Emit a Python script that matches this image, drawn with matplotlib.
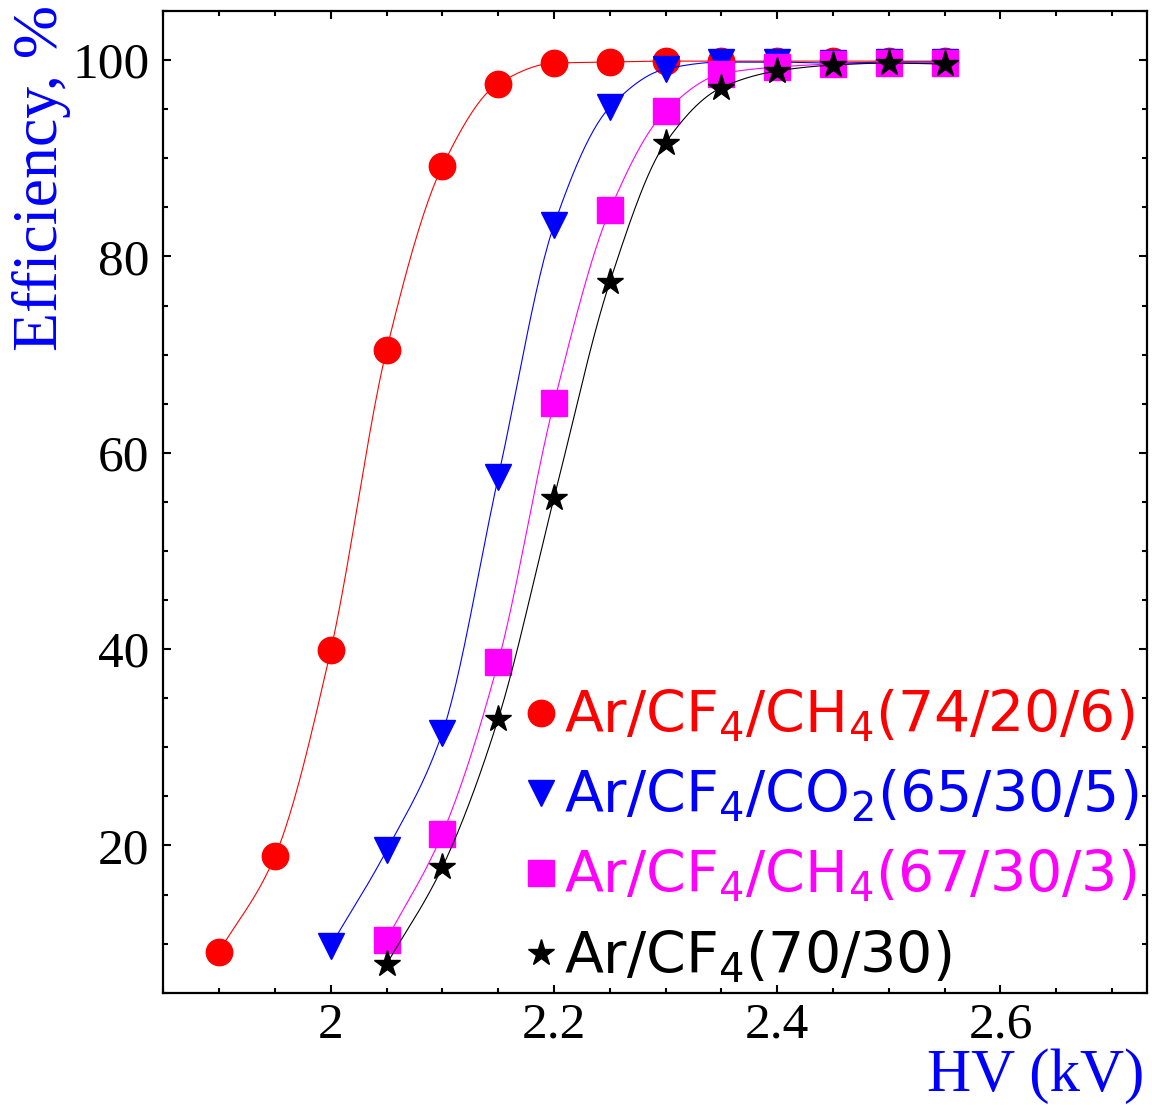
import numpy as np
import matplotlib
matplotlib.use("Agg")
import matplotlib.pyplot as plt
from matplotlib.ticker import MultipleLocator

# HV in kV, efficiency in %
hv_red = [1.90, 1.95, 2.00, 2.05, 2.10, 2.15, 2.20, 2.25, 2.30, 2.35, 2.40, 2.45, 2.50, 2.55]
eff_red = [9.2, 18.9, 39.9, 70.5, 89.2, 97.6, 99.7, 99.8, 99.9, 99.9, 99.9, 99.9, 99.9, 99.9]

hv_blue = [2.00, 2.05, 2.10, 2.15, 2.20, 2.25, 2.30, 2.35, 2.40, 2.45, 2.50, 2.55]
eff_blue = [9.8, 19.5, 31.5, 57.5, 83.2, 95.2, 99.1, 99.8, 99.8, 99.7, 99.8, 99.8]

hv_mag = [2.05, 2.10, 2.15, 2.20, 2.25, 2.30, 2.35, 2.40, 2.45, 2.50, 2.55]
eff_mag = [10.4, 21.2, 38.7, 65.1, 84.7, 94.8, 98.6, 99.3, 99.6, 99.7, 99.7]

hv_blk = [2.05, 2.10, 2.15, 2.20, 2.25, 2.30, 2.35, 2.40, 2.45, 2.50, 2.55]
eff_blk = [7.9, 17.8, 32.9, 55.4, 77.4, 91.6, 97.2, 98.9, 99.5, 99.7, 99.6]

labels = [r'Ar/CF$_4$/CH$_4$(74/20/6)',
          r'Ar/CF$_4$/CO$_2$(65/30/5)',
          r'Ar/CF$_4$/CH$_4$(67/30/3)',
          r'Ar/CF$_4$(70/30)']


def smooth(x, y, n=300):
    # monotone cubic (Fritsch-Carlson) curve through the measured points
    x = np.asarray(x, float)
    y = np.asarray(y, float)
    h = np.diff(x)
    d = np.diff(y) / h
    m = np.zeros_like(y)
    m[0], m[-1] = d[0], d[-1]
    for k in range(1, len(x) - 1):
        if d[k - 1] * d[k] > 0:
            w1 = 2 * h[k] + h[k - 1]
            w2 = h[k] + 2 * h[k - 1]
            m[k] = (w1 + w2) / (w1 / d[k - 1] + w2 / d[k])
    xs = np.linspace(x[0], x[-1], n)
    i = np.clip(np.searchsorted(x, xs) - 1, 0, len(x) - 2)
    t = (xs - x[i]) / h[i]
    h00 = 2 * t**3 - 3 * t**2 + 1
    h10 = t**3 - 2 * t**2 + t
    h01 = -2 * t**3 + 3 * t**2
    h11 = t**3 - t**2
    ys = h00 * y[i] + h10 * h[i] * m[i] + h01 * y[i + 1] + h11 * h[i] * m[i + 1]
    return xs, ys


plt.rcParams['mathtext.default'] = 'regular'

fig = plt.figure(figsize=(11.52, 11.05), dpi=100)
ax = fig.add_axes([0.1418, 0.1016, 0.8536, 0.8884])

series = [
    (hv_red, eff_red, '#ff0000', 'o', 19),
    (hv_blue, eff_blue, '#0000ff', 'v', 19),
    (hv_mag, eff_mag, '#ff00ff', 's', 19),
    (hv_blk, eff_blk, 'black', '*', 20),
]

for (x, y, c, mk, ms), lab in zip(series, labels):
    xs, ys = smooth(x, y)
    ax.plot(xs, ys, color=c, lw=0.8)
    ax.plot(x, y, ls='none', marker=mk, ms=ms, color=c, mec=c, label=lab)

ax.set_xlim(1.85, 2.731)
ax.set_ylim(5, 105)

ax.xaxis.set_minor_locator(MultipleLocator(0.05))
ax.yaxis.set_minor_locator(MultipleLocator(5))
ax.set_xticks([2.0, 2.2, 2.4, 2.6])
ax.set_xticklabels(['2', '2.2', '2.4', '2.6'])
ax.set_yticks([20, 40, 60, 80, 100])

ax.tick_params(which='both', direction='in', top=True, right=True, width=1.5)
ax.tick_params(which='major', length=6)
ax.tick_params(which='minor', length=3.5)
ax.tick_params(axis='x', pad=7)
ax.tick_params(axis='y', pad=10)
for lab in ax.get_xticklabels() + ax.get_yticklabels():
    lab.set_fontfamily('Liberation Serif')
    lab.set_fontsize(37)
for sp in ax.spines.values():
    sp.set_linewidth(1.6)

ax.set_xlabel('HV (kV)', family='Liberation Serif', fontsize=44, color='#0000ff', loc='right')
ax.xaxis.set_label_coords(0.997, -0.057)
ax.set_ylabel('Efficiency, %', family='Liberation Serif', fontsize=46, color='#0000ff', loc='top')
ax.yaxis.set_label_coords(-0.094, 1.006)

leg = ax.legend(loc='upper left', bbox_to_anchor=(0.37, 0.31), frameon=False,
                prop={'family': 'DejaVu Sans', 'size': 41}, handlelength=0.5,
                handletextpad=0.15, labelspacing=0.42, borderpad=0, borderaxespad=0,
                labelcolor='markerfacecolor', markerscale=1.0)

fig.savefig('out.png', dpi=100)
